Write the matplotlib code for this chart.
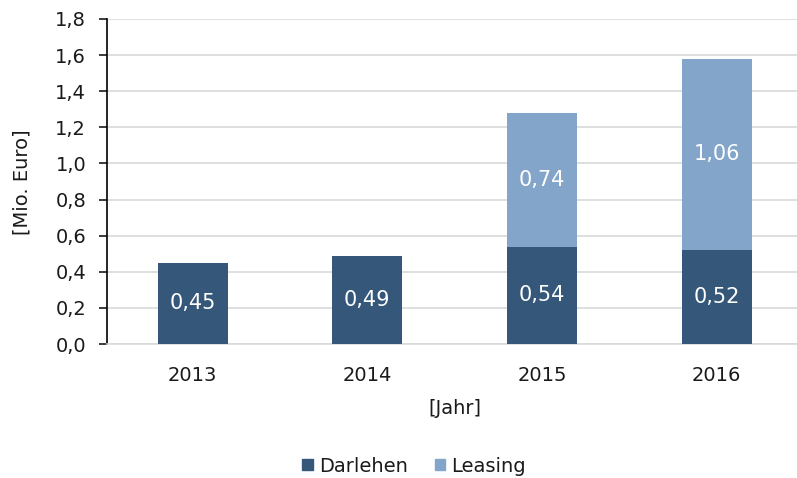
import matplotlib
matplotlib.use("Agg")
import matplotlib.pyplot as plt
import numpy as np
from matplotlib.patches import Patch

years = ["2013", "2014", "2015", "2016"]
darlehen = [0.45, 0.49, 0.54, 0.52]
leasing = [0.0, 0.0, 0.74, 1.06]

DARK = "#355779"
LIGHT = "#82A5C9"
GRID = "#D9D9D9"
INK = "#1a1a1a"

plt.rcParams.update({
    "font.family": ["DejaVu Sans"],
    "font.size": 14,
    "text.color": INK,
    "xtick.color": INK,
    "ytick.color": INK,
})

fig = plt.figure(figsize=(7.97, 4.78), dpi=100)
ax = fig.add_axes([107 / 797, 1 - 344 / 478, 1 - 107 / 797, (344 - 19) / 478])

x = np.arange(len(years))
w = 0.40
ax.bar(x, darlehen, width=w, color=DARK, zorder=3)
ax.bar(x, leasing, width=w, bottom=darlehen, color=LIGHT, zorder=3)


def fmt(v):
    return f"{v:.2f}".replace(".", ",")


# Werte mittig in die Segmente schreiben
for i in range(len(years)):
    ax.text(x[i], darlehen[i] / 2, fmt(darlehen[i]), ha="center", va="center",
            color="white", fontsize=15, zorder=4)
    if leasing[i] > 0:
        ax.text(x[i], darlehen[i] + leasing[i] / 2, fmt(leasing[i]), ha="center",
                va="center", color="white", fontsize=15, zorder=4)

ax.set_xlim(-0.49, 3.46)
ax.set_ylim(0, 1.8)
yt = np.arange(0, 1.81, 0.2)
ax.set_yticks(yt, [f"{v:.1f}".replace(".", ",") for v in yt])
ax.set_xticks(x, years)
ax.yaxis.grid(True, color=GRID, linewidth=1.2, zorder=0)
ax.set_axisbelow(True)
for s in ("top", "right"):
    ax.spines[s].set_visible(False)
ax.spines["bottom"].set_color(GRID)
ax.spines["bottom"].set_linewidth(1.2)
ax.spines["left"].set_color("black")
ax.spines["left"].set_linewidth(1.2)
ax.tick_params(axis="x", length=0, pad=16, labelsize=14)
ax.tick_params(axis="y", length=6, width=1.2, direction="out", labelsize=14, pad=9)

fig.text(455 / 797, 1 - 408 / 478, "[Jahr]", ha="center", va="center", fontsize=14)
fig.text(22 / 797, 1 - 182 / 478, "[Mio. Euro]", ha="center", va="center",
         rotation=90, fontsize=14)

handles = [Patch(color=DARK, label="Darlehen"), Patch(color=LIGHT, label="Leasing")]
fig.legend(handles=handles, loc="center", bbox_to_anchor=(414 / 797, 1 - 466 / 478),
           ncol=2, frameon=False, fontsize=14, handlelength=0.55, handleheight=0.55,
           handletextpad=0.3, columnspacing=1.4)

fig.savefig("out.png", dpi=100)
